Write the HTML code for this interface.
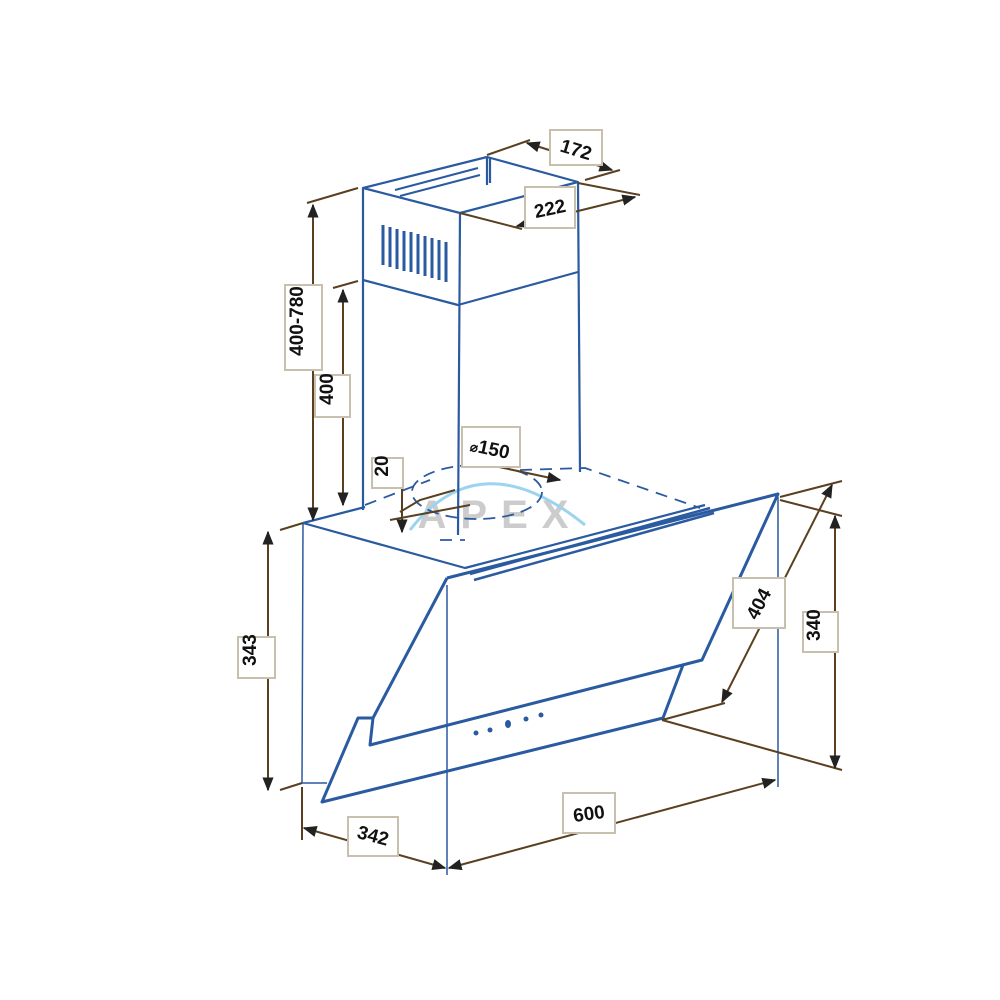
<!DOCTYPE html>
<html><head><style>
html,body{margin:0;padding:0;background:#fff;}
svg{display:block}
text{font-family:"Liberation Sans",sans-serif;font-weight:bold;fill:#111;}
</style></head><body>
<svg width="1000" height="1000" viewBox="0 0 1000 1000" xmlns="http://www.w3.org/2000/svg">
<defs>
<marker id="a" viewBox="0 0 10 10" refX="9" refY="5" markerWidth="7" markerHeight="7" orient="auto-start-reverse"><path d="M0,1 L10,5 L0,9 z" fill="#222"/></marker>
</defs>
<rect width="1000" height="1000" fill="#fff"/>
<text x="500" y="528" font-size="40" style="fill:#cccccc" letter-spacing="14" text-anchor="middle">APEX</text>
<path d="M410,530 Q480,440 585,525" fill="none" stroke="#9cd4ef" stroke-width="3"/>

<g fill="none" stroke="#2a5aa0" stroke-width="2.2" stroke-linejoin="round">
<path d="M363,188 L487,157 L578,182 L460,213 Z"/>
<path d="M363,188 L363,510 M460,213 L458,535 M578,182 L580,472"/>
<path d="M363,280 L458,305 L578,272"/>
<path d="M487,157 L487,185 M490,158 L490,183"/>
<path d="M395,190 L478,168 M400,196 L480,175" stroke-width="2"/>
<g stroke-width="3">
<path d="M383,225 L383,265 M390,227 L390,267 M397,229 L397,269 M404,231 L404,271 M411,232 L411,272 M418,234 L418,274 M425,236 L425,276 M432,238 L432,278 M439,240 L439,280 M446,242 L446,282"/>
</g>
<ellipse cx="477" cy="492" rx="65" ry="27" stroke-dasharray="12,7" stroke-width="1.8"/>
<path d="M365,505 L430,480 M520,470 L585,468 L700,508 M440,540 L465,540" stroke-dasharray="12,8" stroke-width="1.8"/>
<path d="M303,523 L365,507 M303,523 L465,568 L705,505"/>
<path d="M470,574 L710,508 M474,580 L714,513" stroke-width="2.5"/>
<path d="M303,523 L302,783 L327,783" stroke-width="1.5"/>
<path d="M447,578 L778,494 L702,660 L370,745 L373,718 L358,718 L322,802 L663,718 L683,665" stroke-width="3"/>
<path d="M447,578 L373,718" stroke-width="3"/>
<path d="M447,585 L447,875 M778,497 L778,787" stroke-width="1.5"/>
</g>
<g fill="#2a5aa0"><circle cx="476" cy="733" r="2.5"/><circle cx="490" cy="730" r="2.5"/><ellipse cx="508" cy="724" rx="3" ry="4"/><circle cx="526" cy="719" r="2.5"/><circle cx="541" cy="715" r="2.5"/></g>

<g stroke="#5a4020" stroke-width="2" fill="none">
<path d="M307,203 L358,188 M333,288 L358,281"/>
<path d="M313,205 L313,520" marker-start="url(#a)" marker-end="url(#a)"/>
<path d="M343,290 L343,505" marker-start="url(#a)" marker-end="url(#a)"/>
<path d="M487,155 L530,140 M585,180 L620,170"/>
<path d="M527,143 L612,170" marker-start="url(#a)" marker-end="url(#a)"/>
<path d="M460,213 L522,229 M578,183 L640,195"/>
<path d="M517,226 L635,197" marker-start="url(#a)" marker-end="url(#a)"/>
<path d="M402,462 L402,532" marker-end="url(#a)"/>
<path d="M400,512 L420,500 L455,490 M390,520 L470,505"/>
<path d="M480,463 L560,480" marker-end="url(#a)"/>
<path d="M280,530 L303,523 M280,790 L302,783"/>
<path d="M268,532 L268,790" marker-start="url(#a)" marker-end="url(#a)"/>
<path d="M302,787 L302,840"/>
<path d="M304,828 L445,868" marker-start="url(#a)" marker-end="url(#a)"/>
<path d="M449,868 L775,780" marker-start="url(#a)" marker-end="url(#a)"/>
<path d="M780,497 L842,481 M780,500 L842,516 M662,720 L842,770 M662,720 L725,703"/>
<path d="M832,485 L722,702" marker-start="url(#a)" marker-end="url(#a)"/>
<path d="M835,516 L835,768" marker-start="url(#a)" marker-end="url(#a)"/>
</g>

<g fill="#fff" stroke="#c9bfae" stroke-width="2">
<rect x="550" y="130" width="52" height="35"/>
<rect x="525" y="187" width="50" height="41"/>
<rect x="285" y="285" width="37" height="85"/>
<rect x="315" y="375" width="35" height="42"/>
<rect x="372" y="458" width="31" height="30"/>
<rect x="462" y="427" width="58" height="40"/>
<rect x="238" y="637" width="37" height="41"/>
<rect x="348" y="817" width="50" height="39"/>
<rect x="563" y="793" width="52" height="40"/>
<rect x="733" y="578" width="52" height="50"/>
<rect x="803" y="612" width="35" height="40"/>
</g>
<g font-size="19">
<text x="576" y="156" text-anchor="middle" transform="rotate(17 576 150)">172</text>
<text x="550" y="215" text-anchor="middle" transform="rotate(-12 550 209)">222</text>
<text x="310" y="328" text-anchor="middle" transform="rotate(-90 303 328)">400-780</text>
<text x="340" y="396" text-anchor="middle" transform="rotate(-90 333 396)">400</text>
<text x="395" y="473" text-anchor="middle" transform="rotate(-90 388 473)">20</text>
<text x="490" y="455" text-anchor="middle" transform="rotate(12 490 449)"><tspan font-size="13">⌀</tspan>150</text>
<text x="263" y="657" text-anchor="middle" transform="rotate(-90 256 657)">343</text>
<text x="373" y="842" text-anchor="middle" transform="rotate(15 373 836)">342</text>
<text x="589" y="820" text-anchor="middle" transform="rotate(-8 589 814)">600</text>
<text x="759" y="610" text-anchor="middle" transform="rotate(-62 759 604)">404</text>
<text x="827" y="632" text-anchor="middle" transform="rotate(-90 820 632)">340</text>
</g>
</svg>
</body></html>
